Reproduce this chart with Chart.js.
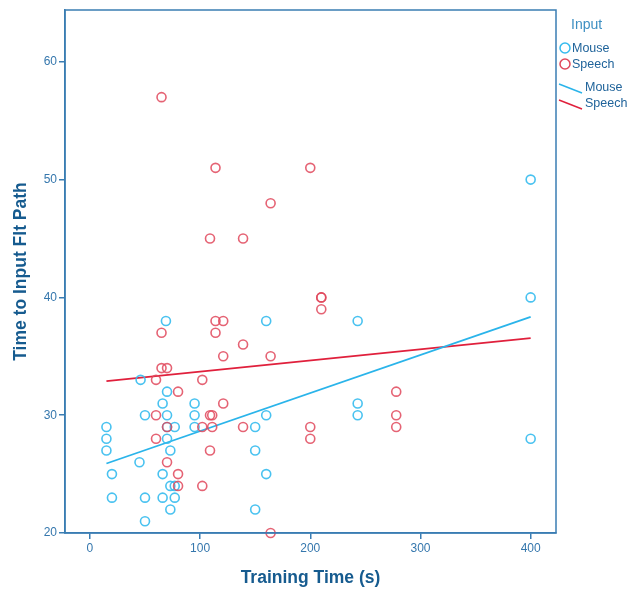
<!DOCTYPE html>
<html>
<head>
<meta charset="utf-8">
<script src="https://cdn.jsdelivr.net/npm/chart.js@4/dist/chart.umd.min.js"></script>
<style>
  html, body { margin: 0; padding: 0; background: #fff; }
  #wrap { width: 639px; height: 591px; }
</style>
</head>
<body>
<div id="wrap"><canvas id="scatter"></canvas></div>
<script>
// training time (s) vs time to input flight path, by input method
const mouseX = [15, 15, 15, 20, 20, 46, 45, 50, 50, 50, 66, 69, 70, 70, 70, 70, 66, 66, 73, 73, 77, 73, 77, 77,
  95, 95, 95, 150, 150, 160, 160, 150, 160, 243, 243, 243, 400, 400, 400];
const mouseY = [29, 28, 27, 25, 23, 33, 26, 30, 23, 21, 31, 38, 32, 30, 29, 28, 25, 23, 27, 24, 24, 22, 29, 23,
  31, 30, 29, 29, 27, 30, 25, 22, 38, 38, 31, 30, 50, 40, 28];

const speechX = [65, 114, 200, 164, 109, 139, 210, 210, 210, 114, 121, 114, 65, 139, 121, 164, 65, 70, 60, 102,
  80, 278, 60, 109, 111, 278, 70, 102, 111, 139, 200, 278, 60, 200, 121, 109, 70, 80, 80, 102, 164];
const speechY = [57, 51, 51, 48, 45, 45, 40, 40, 39, 38, 38, 37, 37, 36, 35, 35, 34, 34, 33, 33,
  32, 32, 30, 30, 30, 30, 29, 29, 29, 29, 29, 29, 28, 28, 31, 27, 26, 25, 24, 24, 20];

// fit line end points
const mouseFitX = [15, 400];
const mouseFitY = [25.9, 38.35];
const speechFitX = [15, 400];
const speechFitY = [32.9, 36.55];

const xTicks = [0, 100, 200, 300, 400];
const yTicks = [20, 30, 40, 50, 60];

const MOUSE = '#35bbee';
const SPEECH = '#e0485c';
const AXIS = '#3a7db3';
const LABEL = '#3577ad';
const TITLE = '#165b8f';
const FONT = '"Liberation Sans", Arial, sans-serif';

const pts = (xs, ys) => xs.map((x, i) => ({ x, y: ys[i] }));

// frame round the plot area + the legend on the right
const framePlugin = {
  id: 'frameAndLegend',
  afterDraw(chart) {
    const { ctx, chartArea: a } = chart;
    ctx.save();
    ctx.strokeStyle = AXIS;
    ctx.lineWidth = 1.5;
    ctx.strokeRect(a.left, a.top, a.right - a.left, a.bottom - a.top);

    ctx.textBaseline = 'middle';
    ctx.fillStyle = '#3d8fc2';
    ctx.font = '14px ' + FONT;
    ctx.fillText('Input', 571, 25);

    ctx.font = '12.5px ' + FONT;
    const items = [
      { c: MOUSE, t: 'Mouse', y: 49 },
      { c: SPEECH, t: 'Speech', y: 65 }
    ];
    items.forEach(it => {
      ctx.beginPath();
      ctx.arc(565, it.y - 1, 5, 0, Math.PI * 2);
      ctx.strokeStyle = it.c;
      ctx.lineWidth = 1.5;
      ctx.stroke();
      ctx.fillStyle = '#1f639a';
      ctx.fillText(it.t, 572, it.y);
    });
    const lines = [
      { c: '#2ab4ea', t: 'Mouse', y: 88 },
      { c: '#e0203c', t: 'Speech', y: 104 }
    ];
    lines.forEach(it => {
      ctx.beginPath();
      ctx.moveTo(559, it.y - 4);
      ctx.lineTo(582, it.y + 5);
      ctx.strokeStyle = it.c;
      ctx.lineWidth = 1.5;
      ctx.stroke();
      ctx.fillStyle = '#1f639a';
      ctx.fillText(it.t, 585, it.y);
    });
    ctx.restore();
  }
};

const keepTicks = list => scale => {
  scale.ticks = list.map(v => ({ value: v }));
};

new Chart(document.getElementById('scatter'), {
  type: 'scatter',
  data: {
    datasets: [
      {
        label: 'Mouse fit',
        type: 'line',
        data: pts(mouseFitX, mouseFitY),
        borderColor: '#2ab4ea',
        borderWidth: 1.8,
        pointRadius: 0,
        fill: false,
        order: 3
      },
      {
        label: 'Speech fit',
        type: 'line',
        data: pts(speechFitX, speechFitY),
        borderColor: '#e0203c',
        borderWidth: 1.8,
        pointRadius: 0,
        fill: false,
        order: 4
      },
      {
        label: 'Mouse',
        data: pts(mouseX, mouseY),
        borderColor: 'rgba(53,187,238,0.9)',
        backgroundColor: 'rgba(0,0,0,0)',
        borderWidth: 1.6,
        pointRadius: 4.5,
        order: 2
      },
      {
        label: 'Speech',
        data: pts(speechX, speechY),
        borderColor: 'rgba(224,72,92,0.85)',
        backgroundColor: 'rgba(0,0,0,0)',
        borderWidth: 1.6,
        pointRadius: 4.5,
        order: 1
      }
    ]
  },
  options: {
    responsive: true,
    maintainAspectRatio: false,
    animation: false,
    clip: false,
    layout: { padding: { top: 10, right: 83, left: 0, bottom: 0 } },
    plugins: {
      legend: { display: false },
      tooltip: { enabled: false }
    },
    scales: {
      x: {
        type: 'linear',
        min: -22.6,
        max: 423,
        afterBuildTicks: keepTicks(xTicks),
        afterFit(scale) { scale.height = 58; },
        grid: { display: true, drawOnChartArea: false, drawTicks: true, tickLength: 6, color: AXIS, lineWidth: 1.5 },
        border: { display: true, color: AXIS, width: 1.5 },
        ticks: { color: LABEL, font: { size: 12, family: FONT }, padding: 2 },
        title: {
          display: true,
          text: 'Training Time (s)',
          color: TITLE,
          font: { size: 17.5, weight: 'bold', family: FONT },
          padding: { top: 6, bottom: 2 }
        }
      },
      y: {
        type: 'linear',
        min: 20,
        max: 64.4,
        afterBuildTicks: keepTicks(yTicks),
        afterFit(scale) { scale.width = 65; },
        grid: { display: true, drawOnChartArea: false, drawTicks: true, tickLength: 6, color: AXIS, lineWidth: 1.5 },
        border: { display: true, color: AXIS, width: 1.5 },
        ticks: { color: LABEL, font: { size: 12, family: FONT }, padding: 2 },
        title: {
          display: true,
          text: 'Time to Input Flt Path',
          color: TITLE,
          font: { size: 17.5, weight: 'bold', family: FONT },
          padding: { top: 10.5, bottom: 0 }
        }
      }
    }
  },
  plugins: [framePlugin]
});
</script>
</body>
</html>
